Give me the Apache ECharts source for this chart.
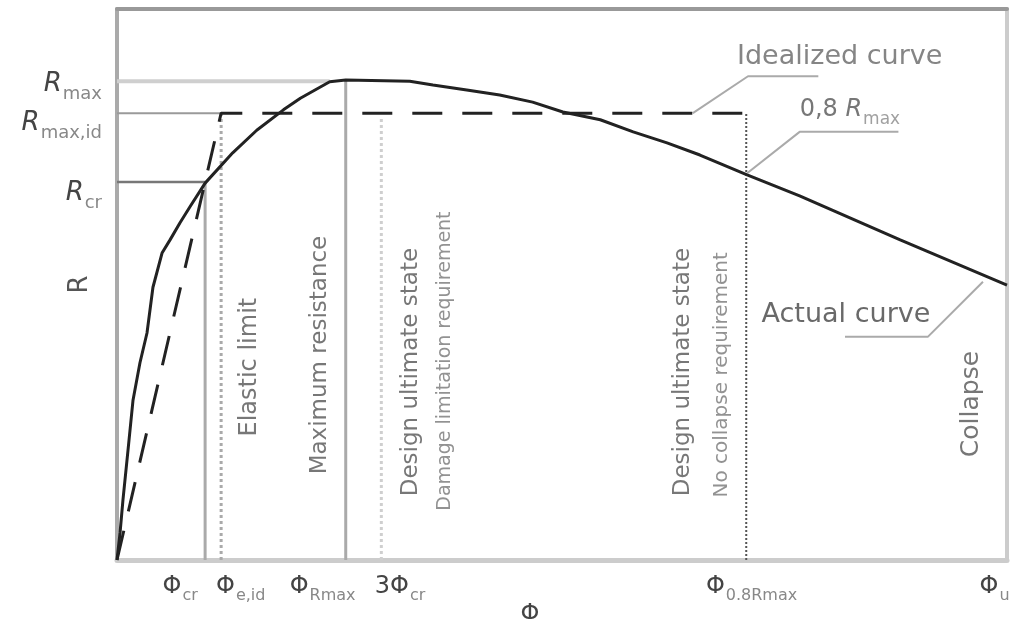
<!DOCTYPE html>
<html>
<head>
<meta charset="utf-8">
<script src="https://cdn.jsdelivr.net/npm/echarts@6/dist/echarts.min.js"></script>
<style>html,body{margin:0;padding:0;background:#fff;}#c{width:1014px;height:619px;}</style>
</head>
<body>
<div id="c"></div>
<script>
// ---- data (abstract units: x 0..100 = Φ, y 0..100 = R) ----
const actualCurve = [[0,0],[0.34,4.9],[0.67,10.9],[1.24,20.0],[1.8,29.0],[2.58,35.8],[3.37,41.2],[4.04,49.5],[5.06,55.7],[5.96,58.1],[7.08,61.2],[8.2,64.1],[9.9,68.4],[13.0,73.9],[15.7,78.0],[18.7,81.7],[20.6,83.8],[23.9,86.8],[25.7,87.1],[32.9,86.9],[35.5,86.2],[39.3,85.3],[43.0,84.4],[46.7,83.1],[50.1,81.3],[54.3,79.9],[58.0,77.7],[61.8,75.7],[65.5,73.5],[70.8,69.9],[76.7,66.1],[88.0,58.1],[100,49.9]];
const idealizedCurve = [[0,0],[11.7,81.1],[70.7,81.1]];
const lineRmax = [[0,86.9],[23.9,86.9]];
const lineRmaxId = [[0,81.1],[11.7,81.1]];
const lineRcr = [[0,68.6],[9.9,68.6]];
const linePhiCr = [[9.9,0],[9.9,68.6]];
const linePhiEid = [[11.7,0],[11.7,81.1]];
const linePhiRmax = [[25.7,0],[25.7,87.1]];
const line3PhiCr = [[29.7,0],[29.7,80.4]];
const linePhi08 = [[70.7,0],[70.7,81.1]];
const leaderIdealized = [[64.7,81.1],[70.9,87.8],[78.8,87.8]];
const leader08Rmax = [[70.8,70.2],[76.7,77.7],[87.8,77.7]];
const leaderActual = [[97.3,50.5],[91.1,40.5],[81.8,40.5]];

const xLabelPos = [7.1, 13.9, 23.1, 31.8, 71.3, 98.6];
const xLabelText = ['{p|Φ}{s|cr}', '{p|Φ}{s|e,id}', '{p|Φ}{s|Rmax}', '{p|3Φ}{s|cr}', '{p|Φ}{s|0.8Rmax}', '{p|Φ}{s|u}'];
const yLabelPos = [86.4, 79.3, 66.6];
const yLabelText = ['{r|R}{s|max}', '{r|R}{s|max,id}', '{r|R}{s|cr}'];

const verticalNotes = [
  {text:'Elastic limit', pos:[14.9,35.0], size:24, color:'#555'},
  {text:'Maximum resistance', pos:[22.8,37.2], size:23, color:'#555'},
  {text:'Design ultimate state', pos:[33.0,34.1], size:23, color:'#555'},
  {text:'Damage limitation requirement', pos:[36.9,36.1], size:19, color:'#777'},
  {text:'Design ultimate state', pos:[63.6,34.1], size:23, color:'#555'},
  {text:'No collapse requirement', pos:[68.0,33.6], size:20, color:'#777'},
  {text:'Collapse', pos:[96.0,28.3], size:25, color:'#555'}
];
const curveNotes = [
  {text:'Idealized curve', pos:[81.2,91.3], size:27, color:'#666'},
  {text:'Actual curve', pos:[81.9,44.5], size:27, color:'#444'}
];
const note08 = {pos:[76.7,81.7]};

// ---- chart ----
const chart = echarts.init(document.getElementById('c'), null, {renderer:'canvas'});
const FONT = 'DejaVu Sans';

function seg(data, color, width, type, z) {
  return {type:'line', data:data, symbol:'none', silent:true, z:z||2,
    lineStyle:{color:color, width:width, type:type||'solid'}};
}
function note(d, rotate) {
  return {type:'scatter', data:[d.pos], symbolSize:0, silent:true, z:5,
    label:{show:true, position:'inside', rotate:rotate, formatter:d.text,
      fontFamily:FONT, fontSize:d.size, color:d.color, align:'center', verticalAlign:'middle'}};
}

const series = [
  seg(lineRmax, '#cfcfcf', 4),
  seg(lineRmaxId, '#9a9a9a', 2),
  seg(lineRcr, '#777', 2.5),
  seg(linePhiCr, '#aaa', 3),
  seg(linePhiEid, '#aaa', 3, 'dotted'),
  seg(linePhiRmax, '#aaa', 3),
  seg(line3PhiCr, '#cfcfcf', 3, 'dotted'),
  seg(linePhi08, '#555', 2, 'dotted'),
  seg(leaderIdealized, '#aaa', 2),
  seg(leader08Rmax, '#aaa', 2),
  seg(leaderActual, '#aaa', 2),
  {type:'line', data:idealizedCurve, symbol:'none', silent:true, z:3,
    lineStyle:{color:'#222', width:3, type:[30,20]}},
  {type:'line', data:actualCurve, symbol:'none', silent:true, z:4,
    lineStyle:{color:'#222', width:3}}
];
verticalNotes.forEach(d => series.push(note(d, 90)));
curveNotes.forEach(d => series.push(note(d, 0)));
series.push({type:'scatter', data:[note08.pos], symbolSize:0, silent:true, z:5,
  label:{show:true, position:'right', distance:0, formatter:'{n|0,8 }{r|R}{s|max}',
    rich:{n:{fontFamily:FONT, fontSize:24, color:'#555'},
          r:{fontFamily:FONT, fontSize:24, fontStyle:'italic', color:'#555'},
          s:{fontFamily:FONT, fontSize:17, color:'#888', padding:[20,0,0,1]}}}});

const option = {
  animation:false,
  backgroundColor:'#fff',
  grid:{left:117, right:7, top:9, bottom:59, containLabel:false, outerBoundsMode:'none'},
  xAxis:[
    {type:'value', min:0, max:100, position:'bottom',
     axisLine:{show:true, onZero:false, lineStyle:{color:'#ccc', width:5}},
     axisTick:{show:false}, splitLine:{show:false},
     axisLabel:{customValues:xLabelPos, margin:10,
       formatter:(v)=>{const i=xLabelPos.indexOf(v); return i<0?'':xLabelText[i];},
       rich:{p:{fontFamily:FONT, fontSize:24, color:'#444'},
             s:{fontFamily:FONT, fontSize:16, color:'#888', padding:[18,0,0,1]}}},
     name:'Φ', nameLocation:'middle', nameGap:43, nameMoveOverlap:false,
     nameTextStyle:{fontFamily:FONT, fontSize:24, color:'#444', padding:[0,64,0,0]}},
    {type:'value', min:0, max:100, position:'top',
     axisLine:{show:true, onZero:false, lineStyle:{color:'#999', width:4}},
     axisTick:{show:false}, splitLine:{show:false}, axisLabel:{show:false}}
  ],
  yAxis:[
    {type:'value', min:0, max:100, position:'left',
     axisLine:{show:true, onZero:false, lineStyle:{color:'#aaa', width:4}},
     axisTick:{show:false}, splitLine:{show:false},
     axisLabel:{customValues:yLabelPos, margin:15,
       formatter:(v)=>{const i=yLabelPos.indexOf(v); return i<0?'':yLabelText[i];},
       rich:{r:{fontFamily:FONT, fontSize:26, fontStyle:'italic', color:'#444'},
             s:{fontFamily:FONT, fontSize:18, color:'#888', padding:[20,0,0,1]}}},
     name:'R', nameLocation:'middle', nameGap:24, nameRotate:90, nameMoveOverlap:false,
     nameTextStyle:{fontFamily:FONT, fontSize:26, color:'#555'}},
    {type:'value', min:0, max:100, position:'right',
     axisLine:{show:true, onZero:false, lineStyle:{color:'#ccc', width:4}},
     axisTick:{show:false}, splitLine:{show:false}, axisLabel:{show:false}}
  ],
  series:series
};
chart.setOption(option);
</script>
</body>
</html>
